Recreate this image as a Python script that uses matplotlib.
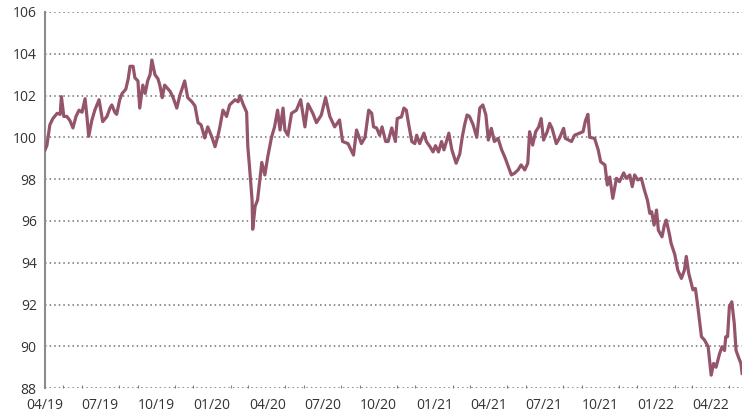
import matplotlib
matplotlib.use("Agg")
import matplotlib.pyplot as plt
import matplotlib.dates as mdates
import pandas as pd

start_date = "2019-04-01"
day_offsets = [0, 3, 8, 13, 20, 25, 27, 31, 36, 41, 46, 51, 56, 61, 66, 69, 72, 77, 82, 89,
               95, 102, 107, 110, 115, 118, 123, 127, 133, 137, 140, 145, 148, 153, 156, 161,
               165, 169, 173, 176, 181, 186, 189, 193, 197, 206, 211, 217, 222, 230, 235, 242,
               247, 252, 257, 263, 268, 275, 280, 285, 288, 293, 299, 304, 313, 318, 321, 326,
               332, 334, 337, 341, 342, 346, 350, 357, 362, 367, 373, 378, 383, 387, 392, 395,
               400, 406, 414, 421, 428, 433, 441, 447, 455, 462, 469, 477, 485, 490, 499, 508,
               513, 521, 527, 533, 538, 541, 546, 551, 555, 561, 565, 571, 577, 580, 587, 591,
               595, 599, 604, 609, 612, 617, 624, 628, 634, 639, 643, 648, 653, 657, 665, 670,
               677, 683, 687, 691, 695, 699, 705, 711, 716, 721, 726, 730, 735, 740, 746, 752,
               757, 762, 768, 773, 779, 784, 790, 795, 798, 803, 808, 813, 817, 821, 827, 831,
               835, 842, 847, 854, 857, 867, 872, 880, 886, 890, 894, 897, 905, 911, 915, 922,
               926, 930, 935, 941, 946, 953, 957, 963, 967, 971, 976, 982, 987, 992, 996, 999,
               1003, 1007, 1010, 1016, 1020, 1023, 1028, 1031, 1037, 1042, 1048, 1053, 1056,
               1060, 1067, 1071, 1075, 1081, 1086, 1092, 1097, 1101, 1105, 1111, 1115, 1119,
               1121, 1124, 1127, 1131, 1135, 1138, 1143, 1146, 1148]
values = [99.4, 99.6, 100.6, 100.9, 101.15, 101.1, 101.95, 101.0, 101.0, 100.8, 100.45, 101.0,
          101.3, 101.2, 101.85, 101.0, 100.05, 100.8, 101.3, 101.8, 100.75, 101.0, 101.4, 101.55,
          101.2, 101.1, 101.8, 102.1, 102.3, 102.8, 103.4, 103.4, 102.85, 102.7, 101.4, 102.5,
          102.1, 102.7, 103.0, 103.7, 103.0, 102.8, 102.5, 101.9, 102.5, 102.2, 101.9, 101.4,
          102.0, 102.7, 101.9, 101.7, 101.5, 100.7, 100.6, 99.97, 100.5, 100.0, 99.55, 100.1,
          100.5, 101.3, 101.0, 101.55, 101.8, 101.7, 102.0, 101.6, 101.2, 99.55, 98.5, 97.0,
          95.6, 96.7, 97.0, 98.8, 98.2, 99.1, 100.0, 100.5, 101.3, 100.35, 101.4, 100.35,
          100.1, 101.15, 101.3, 101.8, 100.5, 101.6, 101.15, 100.7, 101.07, 101.9, 101.0, 100.5,
          100.83, 99.8, 99.7, 99.15, 100.35, 99.7, 100.0, 101.3, 101.15, 100.5, 100.45, 100.1,
          100.5, 99.8, 99.8, 100.45, 99.8, 100.9, 100.98, 101.4, 101.3, 100.6, 99.8, 99.7,
          100.1, 99.7, 100.2, 99.8, 99.55, 99.3, 99.6, 99.3, 99.8, 99.4, 100.2, 99.4, 98.76,
          99.2, 100.0, 100.6, 101.07, 101.0, 100.6, 100.0, 101.4, 101.55, 101.07, 99.87, 100.43,
          99.8, 99.95, 99.4, 99.07, 98.68, 98.2, 98.28, 98.44, 98.68, 98.44, 98.76, 100.27,
          99.63, 100.27, 100.5, 100.9, 99.87, 100.27, 100.67, 100.43, 99.7, 99.95, 100.43, 99.95,
          99.8, 100.1, 100.2, 100.27, 100.8, 101.1, 100.0, 99.95, 99.4, 98.83, 98.68, 97.72,
          98.1, 97.08, 98.04, 97.88, 98.3, 98.04, 98.2, 97.64, 98.2, 97.96, 98.04, 97.48, 97.0,
          96.36, 96.44, 95.8, 96.52, 95.56, 95.24, 95.8, 96.04, 95.4, 94.93, 94.4, 93.65, 93.25,
          93.65, 94.3, 93.5, 92.7, 92.77, 91.9, 90.46, 90.3, 89.98, 88.62, 89.18, 89.0, 89.66,
          89.98, 89.8, 90.46, 90.46, 91.9, 92.13, 91.1, 89.8, 89.4, 89.18, 88.7]

y_ticks = [88, 90, 92, 94, 96, 98, 100, 102, 104, 106]
x_tick_dates = ["2019-04-01", "2019-07-01", "2019-10-01", "2020-01-01", "2020-04-01",
                "2020-07-01", "2020-10-01", "2021-01-01", "2021-04-01", "2021-07-01",
                "2021-10-01", "2022-01-01", "2022-04-01"]

dates = pd.Timestamp(start_date) + pd.to_timedelta(day_offsets, unit="D")

plt.rcParams['font.family'] = ['Open Sans', 'DejaVu Sans']
fig = plt.figure(figsize=(7.44, 4.12), dpi=100)
ax = fig.add_axes([0.0605, 0.058, 0.937, 0.913])

ax.plot(dates, values, color="#94546C", linewidth=2.3, solid_joinstyle="round", zorder=3)

ax.set_ylim(88, 106)
ax.set_yticks(y_ticks)
ax.set_xlim(dates[0], dates[-1])
xt = pd.to_datetime(x_tick_dates)
ax.set_xticks(xt)
ax.xaxis.set_major_formatter(mdates.DateFormatter("%m/%y"))
ax.xaxis.set_minor_locator(mdates.MonthLocator())

ax.grid(axis="y", linestyle=(0, (1, 2)), color="#707070", linewidth=1.1)
for s in ["top", "right", "bottom"]:
    ax.spines[s].set_visible(False)
ax.spines["left"].set_color("#8c8c8c")
ax.spines["left"].set_linewidth(1.5)

ax.tick_params(axis="y", length=0, pad=6, labelsize=10, labelcolor="#333333")
ax.tick_params(axis="x", which="major", length=0, pad=7, labelsize=10, labelcolor="#333333")
ax.tick_params(axis="x", which="minor", direction="in", length=2.5, color="#808080", width=0.8)

fig.savefig("out.png", dpi=100)
